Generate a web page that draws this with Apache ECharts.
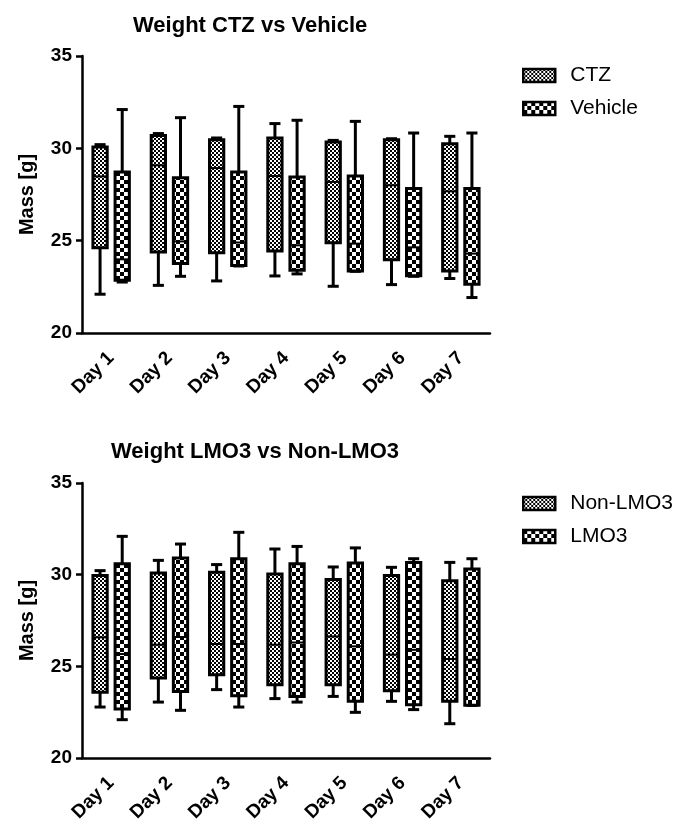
<!DOCTYPE html>
<html>
<head>
<meta charset="utf-8">
<script src="https://cdn.jsdelivr.net/npm/echarts@6/dist/echarts.min.js"></script>
<style>
  html, body { margin: 0; padding: 0; background: #fff; }
  #chart { width: 678px; height: 832px; }
</style>
</head>
<body>
<div id="chart"></div>
<script>
// categories
const days = ['Day 1', 'Day 2', 'Day 3', 'Day 4', 'Day 5', 'Day 6', 'Day 7']
const yTicks = [20, 25, 30, 35]

// [min, q1, median, q3, max] per day
const ctz = [
  [22.1, 24.62, 28.48, 30.07, 30.2],
  [22.58, 24.39, 29.08, 30.7, 30.8],
  [22.82, 24.35, 28.93, 30.47, 30.56],
  [23.09, 24.44, 28.5, 30.56, 31.34],
  [22.53, 24.89, 28.18, 30.34, 30.43],
  [22.62, 23.97, 28.0, 30.47, 30.52],
  [22.95, 23.36, 27.67, 30.25, 30.65]
]
const vehicle = [
  [22.76, 22.85, 23.99, 28.72, 32.1],
  [23.07, 23.76, 24.96, 28.41, 31.66],
  [23.63, 23.65, 24.9, 28.72, 32.27],
  [23.2, 23.4, 24.75, 28.45, 31.52],
  [23.34, 23.36, 24.84, 28.5, 31.46],
  [23.07, 23.1, 24.64, 27.82, 30.83],
  [21.92, 22.64, 24.3, 27.82, 30.83]
]
const nonLmo3 = [
  [22.78, 23.58, 26.58, 29.96, 30.22],
  [23.05, 24.36, 26.18, 30.09, 30.78],
  [23.73, 24.54, 26.22, 30.13, 30.55],
  [23.24, 24.0, 26.18, 30.04, 31.4],
  [23.36, 24.0, 26.63, 29.73, 30.42],
  [23.09, 23.67, 25.64, 29.95, 30.4],
  [21.87, 23.09, 25.4, 29.67, 30.67]
]
const lmo3 = [
  [22.09, 22.67, 25.67, 30.6, 32.09],
  [22.6, 23.63, 26.6, 30.91, 31.67],
  [22.78, 23.4, 26.22, 30.87, 32.31],
  [23.05, 23.36, 26.3, 30.6, 31.54],
  [22.49, 23.09, 26.09, 30.64, 31.46],
  [22.64, 22.91, 25.9, 30.67, 30.87],
  [22.87, 22.88, 25.36, 30.31, 30.87]
]

const FONT = 'Arial, "Liberation Sans", sans-serif'

// checkerboard fill
function checker(size) {
  const c = document.createElement('canvas')
  c.width = c.height = size * 2
  const g = c.getContext('2d')
  g.fillStyle = '#fff'
  g.fillRect(0, 0, size * 2, size * 2)
  g.fillStyle = '#000'
  g.fillRect(0, 0, size, size)
  g.fillRect(size, size, size, size)
  return { image: c, repeat: 'repeat' }
}
const fine = checker(2)
const coarse = checker(4)

function makeRender(side, fill) {
  return function (params, api) {
    const cat = api.value(0)
    const band = api.size([1, 0])[0]
    const cx = api.coord([cat, 20])[0] + side * band * 0.19
    const w = band * 0.245
    const cap = band * 0.19
    const y = i => api.coord([cat, api.value(i)])[1]
    const lo = y(1), q1 = y(2), med = y(3), q3 = y(4), hi = y(5)
    const line = { stroke: '#000', lineWidth: 3 }
    return {
      type: 'group',
      children: [
        { type: 'line', shape: { x1: cx, y1: hi, x2: cx, y2: q3 }, style: line },
        { type: 'line', shape: { x1: cx, y1: q1, x2: cx, y2: lo }, style: line },
        { type: 'line', shape: { x1: cx - cap / 2, y1: hi, x2: cx + cap / 2, y2: hi }, style: line },
        { type: 'line', shape: { x1: cx - cap / 2, y1: lo, x2: cx + cap / 2, y2: lo }, style: line },
        { type: 'rect', shape: { x: cx - w / 2, y: q3, width: w, height: q1 - q3 }, style: { fill: fill, stroke: '#000', lineWidth: 3 } },
        { type: 'line', shape: { x1: cx - w / 2, y1: med, x2: cx + w / 2, y2: med }, style: { stroke: '#000', lineWidth: 2 } }
      ]
    }
  }
}

function boxSeries(name, rows, side, fill, idx) {
  return {
    name: name,
    type: 'custom',
    xAxisIndex: idx,
    yAxisIndex: idx,
    itemStyle: { color: fill, borderColor: '#000', borderWidth: 2.5 },
    renderItem: makeRender(side, fill),
    encode: { x: 0, y: [1, 2, 3, 4, 5] },
    data: rows.map((r, i) => [i].concat(r))
  }
}

function xAxis(idx) {
  return {
    type: 'category',
    gridIndex: idx,
    data: days,
    axisLine: { lineStyle: { color: '#000', width: 2.5 } },
    axisTick: { alignWithLabel: true, length: 7, lineStyle: { color: '#000', width: 2.5 } },
    axisLabel: { rotate: 45, margin: 22, color: '#000', fontWeight: 'bold', fontSize: 19, fontFamily: FONT }
  }
}

function yAxis(idx) {
  return {
    type: 'value',
    gridIndex: idx,
    min: yTicks[0],
    max: yTicks[yTicks.length - 1],
    interval: 5,
    name: 'Mass [g]',
    nameLocation: 'middle',
    nameGap: 45,
    nameTextStyle: { color: '#000', fontWeight: 'bold', fontSize: 20, fontFamily: FONT },
    splitLine: { show: false },
    axisLine: { show: true, lineStyle: { color: '#000', width: 2.5 } },
    axisTick: { show: true, length: 6, lineStyle: { color: '#000', width: 2.5 } },
    axisLabel: { margin: 10, color: '#000', fontWeight: 'bold', fontSize: 19, fontFamily: FONT }
  }
}

function legend(names, top) {
  return {
    orient: 'vertical',
    left: 522,
    top: top,
    padding: 0,
    data: names,
    icon: 'rect',
    itemWidth: 32,
    itemHeight: 13,
    itemGap: 12,
    itemStyle: { borderColor: '#000', borderWidth: 2.5 },
    textStyle: { color: '#000', fontSize: 21, fontFamily: FONT, padding: [0, 0, 0, 10] }
  }
}

const chart = echarts.init(document.getElementById('chart'), null, { renderer: 'canvas' })
chart.setOption({
  backgroundColor: '#fff',
  animation: false,
  title: [
    { text: 'Weight CTZ vs Vehicle', left: 128, top: 10, textStyle: { color: '#000', fontWeight: 'bold', fontSize: 22, fontFamily: FONT } },
    { text: 'Weight LMO3 vs Non-LMO3', left: 106, top: 436, textStyle: { color: '#000', fontWeight: 'bold', fontSize: 22, fontFamily: FONT } }
  ],
  legend: [legend(['CTZ', 'Vehicle'], 65), legend(['Non-LMO3', 'LMO3'], 493)],
  grid: [
    { left: 82, top: 56, width: 408, height: 277 },
    { left: 82, top: 483, width: 408, height: 275 }
  ],
  xAxis: [xAxis(0), xAxis(1)],
  yAxis: [yAxis(0), yAxis(1)],
  series: [
    boxSeries('CTZ', ctz, -1, fine, 0),
    boxSeries('Vehicle', vehicle, 1, coarse, 0),
    boxSeries('Non-LMO3', nonLmo3, -1, fine, 1),
    boxSeries('LMO3', lmo3, 1, coarse, 1)
  ]
})
</script>
</body>
</html>
